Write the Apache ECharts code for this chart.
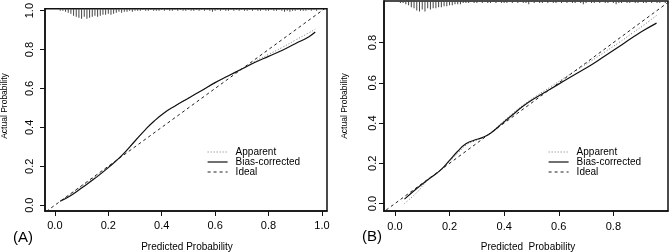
<!DOCTYPE html>
<html>
<head>
<meta charset="utf-8">
<script src="https://cdn.jsdelivr.net/npm/echarts@6/dist/echarts.min.js"></script>
<style>
  html, body { margin: 0; padding: 0; background: #fff; }
  #chart { width: 669px; height: 252px; }
</style>
</head>
<body>
<div id="chart"></div>
<script>
// calibration curves, [predicted, actual]
const apparentA = [[0.02,0.022],[0.06,0.058],[0.1,0.097],[0.15,0.145],[0.2,0.198],[0.25,0.255],[0.3,0.33],[0.34,0.39],[0.37,0.43],[0.41,0.475],[0.45,0.51],[0.5,0.55],[0.55,0.59],[0.6,0.63],[0.65,0.665],[0.7,0.702],[0.75,0.74],[0.8,0.775],[0.85,0.81],[0.9,0.848],[0.95,0.885],[0.975,0.905]]
const biasA = [[0.02,0.02],[0.06,0.05],[0.1,0.088],[0.15,0.138],[0.2,0.193],[0.25,0.255],[0.3,0.33],[0.34,0.39],[0.37,0.43],[0.41,0.475],[0.45,0.51],[0.5,0.55],[0.55,0.59],[0.6,0.63],[0.65,0.665],[0.7,0.7],[0.75,0.735],[0.8,0.765],[0.85,0.795],[0.9,0.83],[0.95,0.865],[0.975,0.89]]
const idealA = [[-0.05,-0.05],[1.05,1.05]]

const apparentB = [[0.035,0.0],[0.08,0.055],[0.12,0.115],[0.17,0.168],[0.2,0.21],[0.23,0.25],[0.26,0.29],[0.29,0.31],[0.32,0.327],[0.35,0.352],[0.39,0.4],[0.43,0.447],[0.47,0.49],[0.52,0.537],[0.57,0.58],[0.62,0.625],[0.67,0.668],[0.72,0.71],[0.77,0.755],[0.82,0.8],[0.87,0.848],[0.91,0.886],[0.958,0.935]]
const biasB = [[0.035,0.022],[0.08,0.075],[0.13,0.128],[0.17,0.17],[0.2,0.215],[0.23,0.26],[0.26,0.297],[0.29,0.315],[0.32,0.328],[0.35,0.35],[0.39,0.395],[0.43,0.44],[0.47,0.485],[0.52,0.53],[0.57,0.57],[0.62,0.61],[0.67,0.65],[0.72,0.69],[0.77,0.735],[0.82,0.78],[0.87,0.825],[0.91,0.86],[0.958,0.897]]
const idealB = [[-0.05,-0.05],[1.05,1.05]]

// rug of predicted probabilities, one count per 0.01 bin
const rugA = [2,2,3,4,5,7,8,9,10,8,10,9,8,7,8,7,6,6,5,6,5,4,3,4,3,3,2,3,2,
  2,2,1,2,2,1,2,2,2,1, 2,1,2,2,1,2,1,2,2,1, 2,2,1,2,1,2,1,2,3,2, 1,2,1,2,2,1,2,1,2,1,
  2,2,1,2,1,2,2,1,2,2, 1,2,2,1,2,3,2,3,2,2, 1,2,2,2,1,2,1,2]
const rugStartA = 0.02
const rugB = [1,2,2,3,4,6,7,9,10,8,10,7,8,7,7,6,6,5,5,4,4,3,3,3,2,
  2,2,1,2,2,1,2,1,2,2, 1,2,1,2,2,2,1,2,1,2, 1,2,2,3,1,2,1,2,2,1, 2,1,2,2,1,2,1,2,1,2,
  2,1,2,3,2,1,2,2,1,2, 1,2,2,1,2,3,2,2,1,2, 2,1,2,2,1,2,2,1,2,1, 2,2,1,2]
const rugStartB = 0.01

const xTicksA = [0, 0.2, 0.4, 0.6, 0.8, 1.0]
const yTicksA = [0, 0.2, 0.4, 0.6, 0.8, 1.0]
const xTicksB = [0, 0.2, 0.4, 0.6, 0.8]
const yTicksB = [0, 0.2, 0.4, 0.6, 0.8]

const seriesNames = ['Apparent', 'Bias-corrected', 'Ideal']

const font = 'Liberation Sans, Arial, sans-serif'
const ink = '#111'

const rugData = (counts, start) => counts.map((c, i) => [+(start + i * 0.01).toFixed(2), c])

function xAxisFor(gridIndex, min, max, ticks, margin) {
  return {
    type: 'value', gridIndex, min, max,
    axisLine: { show: true, onZero: false, lineStyle: { color: ink, width: 1.5 } },
    axisTick: { show: true, length: 5, customValues: ticks, lineStyle: { color: ink } },
    axisLabel: { customValues: ticks, margin, color: '#000', fontSize: 11, fontFamily: font,
      formatter: (v) => v.toFixed(1) },
    splitLine: { show: false }
  }
}
function yAxisFor(gridIndex, min, max, ticks, margin) {
  return {
    type: 'value', gridIndex, min, max,
    axisLine: { show: true, onZero: false, lineStyle: { color: ink, width: 1.5 } },
    axisTick: { show: true, length: 5, customValues: ticks, lineStyle: { color: ink } },
    axisLabel: { customValues: ticks, margin, rotate: 90, color: '#000', fontSize: 11, fontFamily: font,
      formatter: (v) => v.toFixed(1) },
    splitLine: { show: false }
  }
}
function rugAxis(gridIndex) {
  return { type: 'value', gridIndex, inverse: true, min: 0, max: 200, show: false }
}

function panelSeries(xi, yi, ryi, rug, apparent, bias, ideal) {
  return [
    { type: 'bar', xAxisIndex: xi, yAxisIndex: ryi, data: rug, barWidth: 1,
      itemStyle: { color: '#444' }, silent: true },
    { name: seriesNames[0], type: 'line', xAxisIndex: xi, yAxisIndex: yi, data: apparent,
      smooth: true, symbol: 'none', lineStyle: { color: '#777', width: 1, type: [1, 2] }, color: '#777' },
    { name: seriesNames[1], type: 'line', xAxisIndex: xi, yAxisIndex: yi, data: bias,
      smooth: true, symbol: 'none', lineStyle: { color: '#111', width: 1.2 }, color: '#111' },
    { name: seriesNames[2], type: 'line', xAxisIndex: xi, yAxisIndex: yi, data: ideal,
      symbol: 'none', lineStyle: { color: '#222', width: 1, type: [3, 3] }, color: '#222' }
  ]
}

function legendAt(left) {
  return {
    data: seriesNames, orient: 'vertical', left, top: 147, padding: 0,
    itemWidth: 20, itemHeight: 10, itemGap: 0, selectedMode: false,
    itemStyle: { opacity: 0 },
    lineStyle: { width: 1.2 },
    textStyle: { fontSize: 10, lineHeight: 10, color: '#000', fontFamily: font, padding: [0, 0, 0, 3] }
  }
}

function label(text, x, y, size, rotation) {
  return { type: 'text', x, y, rotation: rotation || 0,
    style: { text, fontSize: size, fontFamily: font, fill: '#000', align: 'center', verticalAlign: 'middle' } }
}

const chart = echarts.init(document.getElementById('chart'), null, { renderer: 'canvas' })

chart.setOption({
  animation: false,
  backgroundColor: '#fff',
  grid: [
    { left: 45, top: 3, width: 282, height: 208, show: true, borderColor: ink, borderWidth: 1.5 },
    { left: 384, top: 1, width: 284, height: 210, show: true, borderColor: ink, borderWidth: 1.5 }
  ],
  xAxis: [
    xAxisFor(0, -0.037, 1.019, xTicksA, 9),
    xAxisFor(1, -0.04, 1.0, xTicksB, 10)
  ],
  yAxis: [
    yAxisFor(0, -0.03, 1.01, yTicksA, 10),
    rugAxis(0),
    yAxisFor(1, -0.037, 1.007, yTicksB, 6),
    rugAxis(1)
  ],
  legend: [legendAt(207), legendAt(548)],
  series: [
    ...panelSeries(0, 0, 1, rugData(rugA, rugStartA), apparentA, biasA, idealA),
    ...panelSeries(1, 2, 3, rugData(rugB, rugStartB), apparentB, biasB, idealB)
  ],
  graphic: [
    label('Actual Probability', 5, 106, 8.5, Math.PI / 2),
    label('Actual Probability', 345, 106, 8.5, Math.PI / 2),
    label('Predicted Probability', 187, 247, 10),
    label('Predicted  Probability', 528, 247, 10),
    label('(A)', 23, 238, 15),
    label('(B)', 372, 237, 15)
  ]
})

window.addEventListener('resize', () => chart.resize())
</script>
</body>
</html>
